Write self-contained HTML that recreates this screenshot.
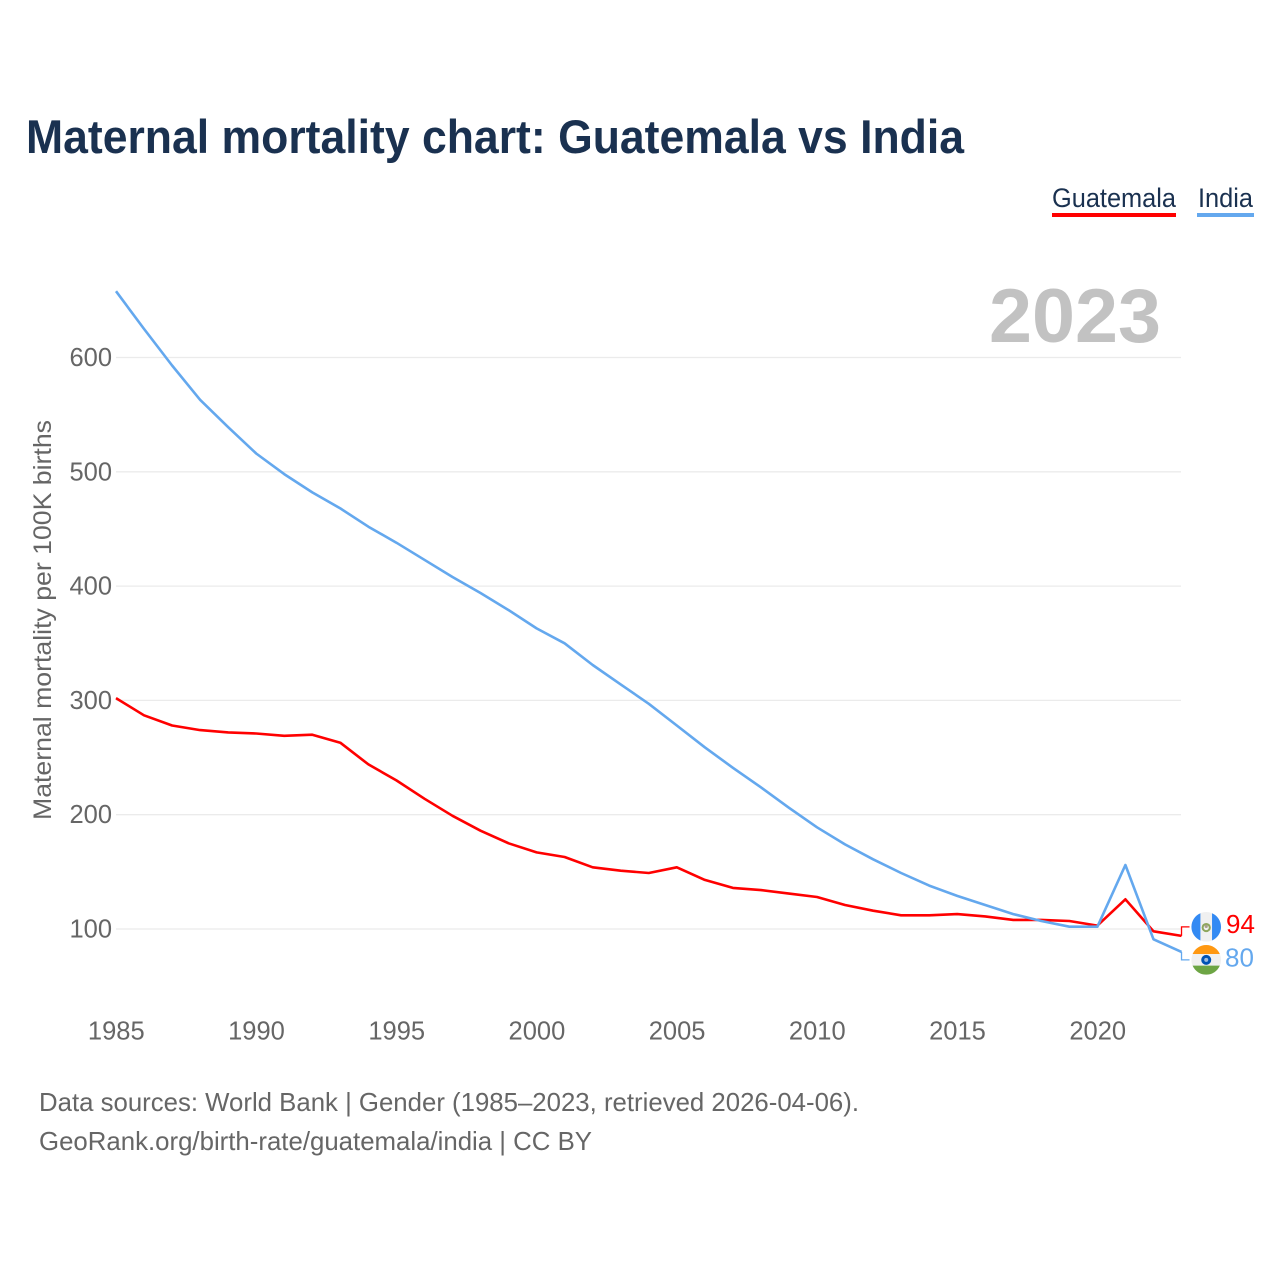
<!DOCTYPE html>
<html lang="en">
<head>
<meta charset="utf-8">
<title>Maternal mortality chart: Guatemala vs India</title>
<style>
html,body{margin:0;padding:0;background:#fff;width:1280px;height:1280px;overflow:hidden}
svg{display:block;font-family:"Liberation Sans",sans-serif}
</style>
</head>
<body>
<svg id="chart" xmlns="http://www.w3.org/2000/svg" width="1280" height="1280" viewBox="0 0 1280 1280">
  <rect width="1280" height="1280" fill="#ffffff"/>
  <text x="26" y="153" font-size="47" font-weight="700" fill="#1a3150" textLength="938" lengthAdjust="spacingAndGlyphs">Maternal mortality chart: Guatemala vs India</text>
  <g>
    <g>
      <text x="1052" y="207" font-size="27" fill="#1a3150" textLength="124" lengthAdjust="spacingAndGlyphs">Guatemala</text>
      <rect x="1052" y="213" width="124" height="4" fill="#ff0000"/>
    </g>
    <g>
      <text x="1198" y="207" font-size="27" fill="#1a3150" textLength="55" lengthAdjust="spacingAndGlyphs">India</text>
      <rect x="1197" y="213" width="57" height="4" fill="#64a8ee"/>
    </g>
  </g>
  <g id="grid"></g>
  <text x="1161" y="342" text-anchor="end" font-size="76" font-weight="700" fill="#c2c2c2" textLength="172" lengthAdjust="spacingAndGlyphs">2023</text>
  <g id="yticks"></g>
  <g id="xticks"></g>
  <text transform="translate(51,820) rotate(-90)" font-size="25" fill="#666666" textLength="400" lengthAdjust="spacingAndGlyphs">Maternal mortality per 100K births</text>
  <g id="series"></g>
  <g id="ends"></g>
  <text x="39" y="1111" font-size="26" fill="#666666" textLength="820" lengthAdjust="spacingAndGlyphs">Data sources: World Bank | Gender (1985–2023, retrieved 2026-04-06).</text>
  <text x="39" y="1150" font-size="26" fill="#666666" textLength="553" lengthAdjust="spacingAndGlyphs">GeoRank.org/birth-rate/guatemala/india | CC BY</text>
</svg>
<script>
const years = [1985,1986,1987,1988,1989,1990,1991,1992,1993,1994,1995,1996,1997,1998,1999,2000,2001,2002,2003,2004,2005,2006,2007,2008,2009,2010,2011,2012,2013,2014,2015,2016,2017,2018,2019,2020,2021,2022,2023];
const guatemalaValues = [302,287,278,274,272,271,269,270,263,244,230,214,199,186,175,167,163,154,151,149,154,143,136,134,131,128,121,116,112,112,113,111,108,108,107,103,126,98,94];
const indiaValues = [658,625,593,563,539,516,498,482,468,452,438,423,408,394,379,363,350,331,314,297,278,259,241,224,206,189,174,161,149,138,129,121,113,107,102,102,156,91,80];
const yTickValues = [100,200,300,400,500,600];
const xTickValues = [1985,1990,1995,2000,2005,2010,2015,2020];

const NS = 'http://www.w3.org/2000/svg';
function xScale(year){ return 116 + (year - 1985) * 28.04; }
function yScale(v){ return 929 - (v - 100) * 1.143; }
function make(tag, attrs, parent){
  const el = document.createElementNS(NS, tag);
  for (const k in attrs) el.setAttribute(k, attrs[k]);
  parent.appendChild(el);
  return el;
}

const gridG = document.getElementById('grid');
const yTicksG = document.getElementById('yticks');
const xTicksG = document.getElementById('xticks');
const seriesG = document.getElementById('series');
const endsG = document.getElementById('ends');

yTickValues.forEach(function(v){
  const line = make('line', {x1:116, x2:1181, y1:yScale(v), y2:yScale(v), stroke:'#ebebeb', 'stroke-width':1.3}, gridG);
  
  
  const t = make('text', {x:112, y:yScale(v)+8.5, 'text-anchor':'end', 'font-size':25.5, fill:'#666666'}, yTicksG);
  
  
  t.textContent = v;
});

xTickValues.forEach(function(y){
  const t = make('text', {x:xScale(y)+0.3, y:1039.5, 'text-anchor':'middle', 'font-size':25.5, fill:'#666666'}, xTicksG);
  
  
  t.textContent = y;
});

function linePoints(values){
  return values.map(function(v, i){ return xScale(years[i]).toFixed(1) + ',' + yScale(v).toFixed(1); }).join(' ');
}

const guatemalaLine = make('polyline', {points:linePoints(guatemalaValues), fill:'none', stroke:'#ff0000', 'stroke-width':2.6, 'stroke-linejoin':'round'}, seriesG);


const indiaLine = make('polyline', {points:linePoints(indiaValues), fill:'none', stroke:'#64a8ee', 'stroke-width':2.6, 'stroke-linejoin':'round'}, seriesG);



const lastG = guatemalaValues[guatemalaValues.length - 1];
const lastI = indiaValues[indiaValues.length - 1];
const endX = xScale(years[years.length - 1]);
const gY = yScale(lastG);
const iY = yScale(lastI);
const gFlagY = gY - 9;
const iFlagY = iY + 8;

const gConn = make('polyline', {points:endX+','+gY+' '+endX+','+gFlagY+' '+(endX+8)+','+gFlagY, fill:'none', stroke:'#ff0000', 'stroke-width':1.3}, endsG);


const iConn = make('polyline', {points:endX+','+iY+' '+endX+','+iFlagY+' '+(endX+8)+','+iFlagY, fill:'none', stroke:'#64a8ee', 'stroke-width':1.3}, endsG);



const flagX = endX + 24.7;
const flagR = 14.8;
const w = Math.sqrt(flagR * flagR - 5.8 * 5.8);

// Guatemala flag
const gFlag = make('g', {}, endsG);


make('circle', {cx:flagX, cy:gFlagY, r:flagR, fill:'#f0f0f0'}, gFlag);
make('path', {d:'M'+(flagX-5.8)+' '+(gFlagY-w)+'A'+flagR+' '+flagR+' 0 0 0 '+(flagX-5.8)+' '+(gFlagY+w)+'Z', fill:'#338af3'}, gFlag);
make('path', {d:'M'+(flagX+5.8)+' '+(gFlagY-w)+'A'+flagR+' '+flagR+' 0 0 1 '+(flagX+5.8)+' '+(gFlagY+w)+'Z', fill:'#338af3'}, gFlag);
make('circle', {cx:flagX, cy:gFlagY+0.7, r:3.6, fill:'none', stroke:'#8ea65c', 'stroke-width':2}, gFlag);
make('circle', {cx:flagX, cy:gFlagY-0.5, r:1.6, fill:'#a9a08a'}, gFlag);

// India flag
const iFlag = make('g', {}, endsG);


make('circle', {cx:flagX, cy:iFlagY, r:flagR, fill:'#f0f0f0'}, iFlag);
make('path', {d:'M'+(flagX-w)+' '+(iFlagY-5.8)+'A'+flagR+' '+flagR+' 0 0 1 '+(flagX+w)+' '+(iFlagY-5.8)+'Z', fill:'#ff9811'}, iFlag);
make('path', {d:'M'+(flagX-w)+' '+(iFlagY+5.8)+'A'+flagR+' '+flagR+' 0 0 0 '+(flagX+w)+' '+(iFlagY+5.8)+'Z', fill:'#6da544'}, iFlag);
make('circle', {cx:flagX, cy:iFlagY, r:5, fill:'#0052b4'}, iFlag);
make('circle', {cx:flagX, cy:iFlagY, r:2, fill:'#9dbbe0'}, iFlag);

const gLabel = make('text', {x:endX+44.5, y:gFlagY+6, 'font-size':26, fill:'#ff0000'}, endsG);


gLabel.textContent = lastG;
const iLabel = make('text', {x:endX+43.5, y:iFlagY+6.5, 'font-size':26, fill:'#64a8ee'}, endsG);


iLabel.textContent = lastI;
</script>
</body>
</html>
